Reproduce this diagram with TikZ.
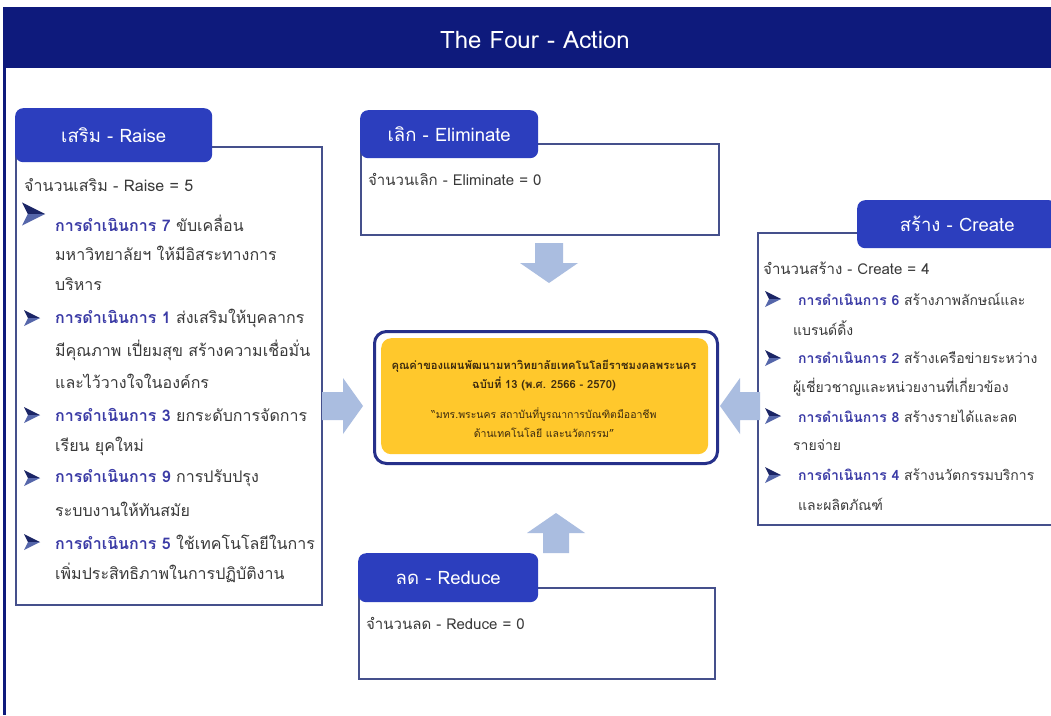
\documentclass[tikz,border=0pt]{standalone}
\usepackage{fontspec}
\setmainfont{Loma}[Script=Thai]
\definecolor{navy}{HTML}{0E1A7C}
\definecolor{tabblue}{HTML}{2C3EBE}
\definecolor{panelline}{HTML}{45508C}
\definecolor{bodyc}{HTML}{3A3A3A}
\definecolor{labc}{HTML}{3B3BA6}
\definecolor{arrowc}{HTML}{AABDE0}
\definecolor{gold}{HTML}{FFC82C}
\definecolor{cnavy}{HTML}{26308A}
\definecolor{ctextc}{HTML}{3D2B0F}
\definecolor{buld}{HTML}{1B2566}
\definecolor{bull}{HTML}{5566AA}
\newcommand\actlab[1]{\textcolor{labc}{\bfseries #1}}
\tikzset{
  panel/.style={draw=panelline, line width=1.5, fill=white, anchor=north west, inner sep=0},
  tabbox/.style={fill=tabblue, rounded corners=8, anchor=north west, inner sep=0, text=white, font=\fontsize{18.5}{21}\selectfont},
  txt/.style={anchor=west, inner sep=0, text=bodyc, font=\fontsize{15}{18}\selectfont},
  rtxt/.style={txt, font=\fontsize{16}{19}\selectfont},
  ctxt/.style={txt, font=\fontsize{14}{17}\selectfont},
  ctext/.style={inner sep=0, text=ctextc, font=\fontsize{10.5}{12}\selectfont},
  blockarrow/.style={fill=arrowc},
  bul/.pic={\fill[buld] (0,-8) -- (16,0) -- (4,0) -- cycle; \fill[bull] (4,0) -- (16,0) -- (0,8) -- cycle;}
}
\begin{document}
\begin{tikzpicture}[x=1pt,y=-1pt]
\useasboundingbox (0,0) rectangle (1051,715);
\clip (0,0) rectangle (1051,715);
\fill[white] (0,0) rectangle (1051,715);
% header and frame
\node[fill=navy, minimum width=1048, minimum height=61, anchor=north west, inner sep=0] (hdr) at (3,7) {};
\node[text=white, font=\fontsize{24}{27}\selectfont, inner sep=0] (title) at (535,40) {The Four - Action};
\draw[navy, line width=2.5] (4.5,7) -- (4.5,715);
% Raise
\node[panel, minimum width=306, minimum height=458] (raise) at (15,146) {};
\node[tabbox, minimum width=197, minimum height=54] (raiseT) at (15,108) {เสริม - Raise};
\node[rtxt] (r0) at (24,185) {จำนวนเสริม - Raise = 5};
\pic[scale=1.45] at (22,214) {bul};
\node[rtxt] (r1) at (55,223) {\actlab{การดำเนินการ 7} ขับเคลื่อน};
\node[rtxt] (r2) at (55,253) {มหาวิทยาลัยฯ ให้มีอิสระทางการ};
\node[rtxt] (r3) at (55,284) {บริหาร};
\pic at (24,318) {bul};
\node[rtxt] (r4) at (55,318) {\actlab{การดำเนินการ 1} ส่งเสริมให้บุคลากร};
\node[rtxt] (r5) at (55,350) {มีคุณภาพ เปี่ยมสุข สร้างความเชื่อมั่น};
\node[rtxt] (r6) at (55,381) {และไว้วางใจในองค์กร};
\pic at (24,415) {bul};
\node[rtxt] (r7) at (55,415) {\actlab{การดำเนินการ 3} ยกระดับการจัดการ};
\node[rtxt] (r8) at (55,446) {เรียน ยุคใหม่};
\pic at (24,478) {bul};
\node[rtxt] (r9) at (55,478) {\actlab{การดำเนินการ 9} การปรับปรุง};
\node[rtxt] (r10) at (55,509) {ระบบงานให้ทันสมัย};
\pic at (24,542) {bul};
\node[rtxt] (r11) at (55,542) {\actlab{การดำเนินการ 5} ใช้เทคโนโลยีในการ};
\node[rtxt] (r12) at (55,573) {เพิ่มประสิทธิภาพในการปฏิบัติงาน};
% Eliminate
\node[panel, minimum width=358, minimum height=91] (elim) at (360,143) {};
\node[tabbox, minimum width=178, minimum height=48] (elimT) at (360,110) {เลิก - Eliminate};
\node[txt] (e0) at (368,179) {จำนวนเลิก - Eliminate = 0};
% Reduce
\node[panel, minimum width=356, minimum height=91] (red) at (358,587) {};
\node[tabbox, minimum width=180, minimum height=49] (redT) at (358,553) {ลด - Reduce};
\node[txt] (d0) at (366,623) {จำนวนลด - Reduce = 0};
% Create
\node[panel, minimum width=310, minimum height=292] (cre) at (757,232) {};
\node[tabbox, minimum width=200, minimum height=48] (creT) at (857,200) {สร้าง - Create};
\node[txt] (c0) at (763,268) {จำนวนสร้าง - Create = 4};
\pic at (765,299) {bul};
\node[ctxt] (c1) at (798,299) {\actlab{การดำเนินการ 6} สร้างภาพลักษณ์และ};
\node[ctxt] (c2) at (793,328) {แบรนด์ดิ้ง};
\pic at (765,358) {bul};
\node[ctxt] (c3) at (798,358) {\actlab{การดำเนินการ 2} สร้างเครือข่ายระหว่าง};
\node[ctxt] (c4) at (793,387) {ผู้เชี่ยวชาญและหน่วยงานที่เกี่ยวข้อง};
\pic at (765,416) {bul};
\node[ctxt] (c5) at (798,416) {\actlab{การดำเนินการ 8} สร้างรายได้และลด};
\node[ctxt] (c6) at (793,445) {รายจ่าย};
\pic at (765,475) {bul};
\node[ctxt] (c7) at (798,475) {\actlab{การดำเนินการ 4} สร้างนวัตกรรมบริการ};
\node[ctxt] (c8) at (798,504) {และผลิตภัณฑ์};
% Core
\node[draw=cnavy, line width=3, rounded corners=12, fill=white, minimum width=343, minimum height=132, anchor=north west, inner sep=0] (core) at (373,330) {};
\node[fill=gold, rounded corners=10, minimum width=327, minimum height=116, anchor=north west, inner sep=0] (coreY) at (381,338) {};
\node[ctext, font=\fontsize{11.2}{13}\selectfont\bfseries] (k1) at (544,366) {คุณค่าของแผนพัฒนามหาวิทยาลัยเทคโนโลยีราชมงคลพระนคร};
\node[ctext, font=\fontsize{11.2}{13}\selectfont\bfseries] (k2) at (544,384) {ฉบับที่ 13 (พ.ศ. 2566 - 2570)};
\node[ctext] (k3) at (544,414) {“มทร.พระนคร สถาบันที่บูรณาการบัณฑิตมืออาชีพ};
\node[ctext] (k4) at (544,433) {ด้านเทคโนโลยี และนวัตกรรม”};
% block arrows
\fill[blockarrow] (535,243) -- (563,243) -- (563,263) -- (578,263) -- (549,283) -- (520,263) -- (535,263) -- cycle;
\fill[blockarrow] (543,553) -- (569,553) -- (569,533) -- (585,533) -- (556,513) -- (527,533) -- (543,533) -- cycle;
\fill[blockarrow] (322,392) -- (343,392) -- (343,378) -- (363,406) -- (343,434) -- (343,420) -- (322,420) -- cycle;
\fill[blockarrow] (760,392) -- (740,392) -- (740,378) -- (720,406) -- (740,434) -- (740,420) -- (760,420) -- cycle;
\end{tikzpicture}
\end{document}
